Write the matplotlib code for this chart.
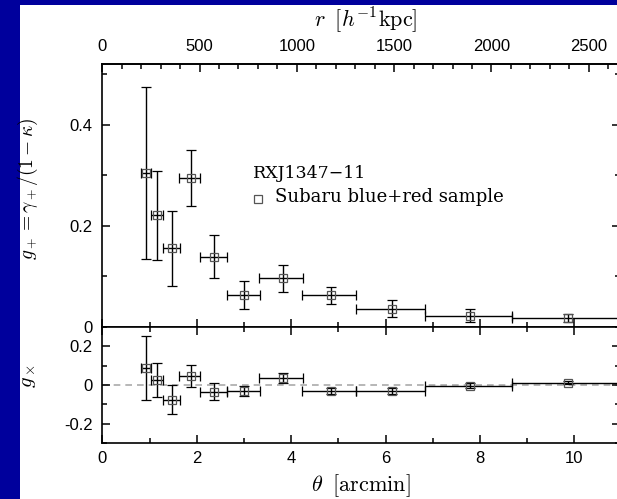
#!/usr/bin/env python3
# Tangential / cross shear profile of RXJ1347-11 (Subaru blue+red sample)

import matplotlib
matplotlib.use('Agg')
import matplotlib.pyplot as plt
from matplotlib.patches import Rectangle
from matplotlib.lines import Line2D
from matplotlib.ticker import MultipleLocator, FixedLocator, FuncFormatter

plt.rcParams['mathtext.fontset'] = 'cm'
plt.rcParams['font.family'] = ['Liberation Sans', 'DejaVu Sans']

# bins in arcmin
theta = [0.93, 1.15, 1.48, 1.87, 2.37, 3.00, 3.82, 4.84, 6.13, 7.79, 9.86]
theta_lo = [0.10, 0.12, 0.19, 0.24, 0.30, 0.36, 0.50, 0.60, 0.75, 0.96, 1.19]
theta_hi = [0.10, 0.14, 0.17, 0.21, 0.27, 0.35, 0.43, 0.54, 0.70, 0.88, 1.25]

g_plus = [0.304, 0.221, 0.156, 0.294, 0.139, 0.063, 0.096, 0.063, 0.036, 0.022, 0.017]
g_plus_err = [0.170, 0.088, 0.074, 0.055, 0.043, 0.028, 0.026, 0.017, 0.017, 0.013, 0.008]

g_cross = [0.089, 0.026, -0.077, 0.046, -0.034, -0.031, 0.034, -0.031, -0.031, -0.003, 0.012]
g_cross_err = [0.167, 0.088, 0.075, 0.055, 0.042, 0.026, 0.026, 0.017, 0.015, 0.012, 0.008]

r_ticks = [0, 500, 1000, 1500, 2000, 2500]

KPC_PER_ARCMIN = 242.6
W, H = 617, 499


def fx(px):
    return px / W


def fy(py):
    return 1 - py / H


def style_axis(ax):
    for s in ax.spines.values():
        s.set_linewidth(1.2)
    ax.tick_params(which='both', direction='in', labelsize=12, width=1.1)
    ax.tick_params(which='major', length=6)
    ax.tick_params(which='minor', length=3.5)
    ax.xaxis.set_major_locator(MultipleLocator(2))
    ax.xaxis.set_minor_locator(MultipleLocator(1))
    ax.yaxis.set_major_formatter(FuncFormatter(lambda v, p: '%g' % round(v, 3)))


fig = plt.figure(figsize=(W / 100, H / 100), dpi=100, facecolor='#00009C')
fig.patches.append(Rectangle((fx(20), 0), 1, fy(5), transform=fig.transFigure,
                             facecolor='white', edgecolor='none', zorder=-10))

left, right = 102.3, 620
xmax = (right - left) / 47.2
ax1 = fig.add_axes([fx(left), fy(327), fx(right - left), (327 - 64) / H])
ax2 = fig.add_axes([fx(left), fy(443), fx(right - left), (443 - 327) / H])

eb = dict(fmt='s', mfc='none', mec='#555555', mew=0.9, ms=6, ecolor='black',
          elinewidth=1.0, capsize=3.6, capthick=1.0)

ax1.errorbar(theta, g_plus, xerr=[theta_lo, theta_hi], yerr=g_plus_err, **eb)
ax2.axhline(0, color='#aaaaaa', lw=1.2, ls=(0, (4, 3)), zorder=0)
ax2.errorbar(theta, g_cross, xerr=[theta_lo, theta_hi], yerr=g_cross_err, **eb)

for ax in (ax1, ax2):
    style_axis(ax)
    ax.set_xlim(0, xmax)

ax1.set_ylim(0, 0.52)
ax1.yaxis.set_major_locator(MultipleLocator(0.2))
ax1.yaxis.set_minor_locator(MultipleLocator(0.1))
ax1.tick_params(which='both', top=False, right=True, labelbottom=False)
ax1.tick_params(axis='y', pad=7)

ax2.set_ylim(-0.3, 0.3)
ax2.yaxis.set_major_locator(MultipleLocator(0.2))
ax2.yaxis.set_minor_locator(MultipleLocator(0.1))
ax2.tick_params(which='both', top=True, right=True)
ax2.tick_params(axis='y', pad=7)
ax2.tick_params(axis='x', pad=6)

sec = ax1.secondary_xaxis('top', functions=(lambda t: t * KPC_PER_ARCMIN,
                                            lambda r: r / KPC_PER_ARCMIN))
sec.xaxis.set_major_locator(FixedLocator(r_ticks))
sec.xaxis.set_minor_locator(FixedLocator(list(range(100, 2700, 100))))
sec.tick_params(which='both', direction='in', labelsize=12, width=1.1, pad=7)
sec.tick_params(which='major', length=6)
sec.tick_params(which='minor', length=3.5)
sec.spines['top'].set_linewidth(1.2)

# axis labels
fig.text(fx(366), fy(20), r'$r\;\;[h^{-1}\mathrm{kpc}]$', fontsize=16, ha='center', va='center')
fig.text(fx(361), fy(486), r'$\theta\;\;[\mathrm{arcmin}]$', fontsize=16, ha='center', va='center')
fig.text(fx(28), fy(189), r'$g_+ = \gamma_+/(1-\kappa)$', fontsize=14, rotation=90,
         ha='center', va='center')
fig.text(fx(28), fy(376), r'$g_\times$', fontsize=15, rotation=90, ha='center', va='center')

# legend
fig.text(fx(253), fy(173), 'RXJ1347\u221211', fontsize=12.5, family='DejaVu Serif',
         ha='left', va='center')
fig.add_artist(Line2D([fx(258)], [fy(199)], marker='s', ms=6, mfc='none',
                      mec='#555555', mew=0.9, transform=fig.transFigure))
fig.text(fx(275), fy(197), 'Subaru blue+red sample', fontsize=13, family='DejaVu Serif',
         ha='left', va='center')

fig.savefig('out.png', dpi=100, facecolor=fig.get_facecolor())
